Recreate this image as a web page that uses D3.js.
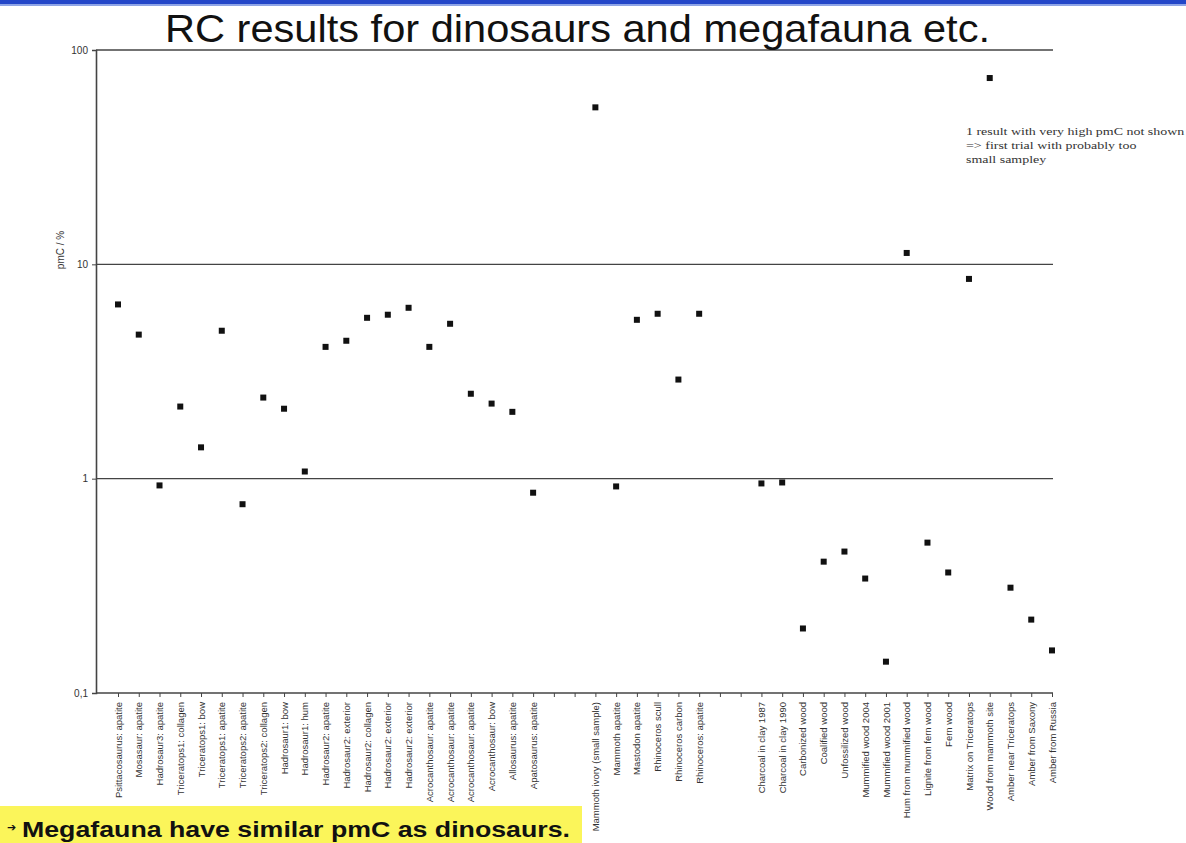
<!DOCTYPE html>
<html>
<head>
<meta charset="utf-8">
<script src="https://cdn.jsdelivr.net/npm/d3@7"></script>
<style>
  html, body { margin: 0; padding: 0; background: #fff; }
  svg { display: block; }
</style>
</head>
<body>
<svg id="chart" width="1186" height="843"></svg>
<script>
// Sample names along the x axis ("" = empty slot separating groups)
const categories = [
  "Psittacosaurus: apatite", "Mosasaur: apatite", "Hadrosaur3: apatite",
  "Triceratops1: collagen", "Triceratops1: bow", "Triceratops1: apatite",
  "Triceratops2: apatite", "Triceratops2: collagen", "Hadrosaur1: bow",
  "Hadrosaur1: hum", "Hadrosaur2: apatite", "Hadrosaur2: exterior",
  "Hadrosaur2: collagen", "Hadrosaur2: exterior", "Hadrosaur2: exterior",
  "Acrocanthosaur: apatite", "Acrocanthosaur: apatite", "Acrocanthosaur: apatite",
  "Acrocanthosaur: bow", "Allosaurus: apatite", "Apatosaurus: apatite",
  "", "",
  "Mammoth ivory (small sample)", "Mammoth apatite", "Mastodon apatite",
  "Rhinoceros scull", "Rhinoceros carbon", "Rhinoceros: apatite",
  "", "",
  "Charcoal in clay 1987", "Charcoal in clay 1990", "Carbonized wood",
  "Coalified wood", "Unfossilized wood", "Mummified wood 2004",
  "Mummified wood 2001", "Hum from mummified wood", "Lignite from fern wood",
  "Fern wood", "Matrix on Triceratops", "Wood from mammoth site",
  "Amber near Triceratops", "Amber from Saxony", "Amber from Russia"
];

// pmC values in %, one per category (null = no measurement)
const pmcValues = [
  6.5, 4.7, 0.93, 2.17, 1.40, 4.9, 0.76, 2.39, 2.12, 1.08,
  4.12, 4.40, 5.63, 5.82, 6.27, 4.12, 5.28, 2.49, 2.24, 2.05, 0.86,
  null, null,
  54.0, 0.92, 5.51, 5.88, 2.90, 5.88,
  null, null,
  0.95, 0.96, 0.20, 0.41, 0.457, 0.342, 0.140, 11.3, 0.503, 0.365,
  8.55, 74.0, 0.31, 0.22, 0.158
];

const yTickValues = [0.1, 1, 10, 100];
const yTickLabels = ["0,1", "1", "10", "100"];

const titleText = "RC results for dinosaurs and megafauna etc.";
const noteLines = [
  "1 result with very high pmC not shown",
  "=> first trial with probably too",
  "small sampley"
];
const conclusionText = "Megafauna have similar pmC as dinosaurs.";

const svg = d3.select("#chart");

// Top banner strip
svg.append("rect").attr("x", 0).attr("y", 0).attr("width", 1186).attr("height", 4)
  .attr("fill", "#2346c8");
svg.append("rect").attr("x", 0).attr("y", 4).attr("width", 1186).attr("height", 2)
  .attr("fill", "#8ea4e6");

const axisX = 96;
const x = d3.scalePoint().domain(d3.range(categories.length)).range([118, 1052]);
const y = d3.scaleLog().domain([0.1, 100]).range([693, 50]);

// Horizontal gridlines at each decade
svg.append("g").selectAll("line")
  .data(yTickValues.slice(1))
  .join("line")
  .attr("x1", axisX).attr("x2", 1053)
  .attr("y1", d => y(d)).attr("y2", d => y(d))
  .attr("stroke", "#444").attr("stroke-width", 1.4);

// Y axis
const yAxis = d3.axisLeft(y)
  .tickValues(yTickValues)
  .tickFormat((d, i) => yTickLabels[i])
  .tickSize(4)
  .tickPadding(4);
const gy = svg.append("g").attr("transform", `translate(${axisX},0)`).call(yAxis);
gy.select(".domain").attr("stroke", "#444").attr("stroke-width", 1.6);
gy.selectAll(".tick line").attr("stroke", "#444");
gy.selectAll(".tick text")
  .attr("font-family", "Liberation Sans, Arial, sans-serif")
  .attr("font-size", 10).attr("fill", "#333");

// X axis
const xAxis = d3.axisBottom(x)
  .tickFormat(i => categories[i])
  .tickSize(4)
  .tickPadding(6);
const gx = svg.append("g").attr("transform", "translate(0,693)").call(xAxis);
gx.select(".domain").attr("d", `M${axisX},0H1053`).attr("stroke", "#444").attr("stroke-width", 1.6);
gx.selectAll(".tick line").attr("stroke", "#444");
gx.selectAll(".tick text")
  .attr("font-family", "Liberation Sans, Arial, sans-serif")
  .attr("font-size", 9.5).attr("fill", "#333")
  .attr("transform", "rotate(-90)")
  .attr("text-anchor", "end")
  .attr("dy", "0.32em")
  .attr("x", -9).attr("y", 0);

// Y axis title
svg.append("text")
  .attr("transform", "translate(64,250) rotate(-90)")
  .attr("text-anchor", "middle")
  .attr("font-family", "Liberation Sans, Arial, sans-serif")
  .attr("font-size", 10).attr("fill", "#333")
  .text("pmC / %");

// Data markers
const pts = pmcValues.map((v, i) => ({ i, v })).filter(d => d.v != null);
svg.append("g").selectAll("rect")
  .data(pts)
  .join("rect")
  .attr("x", d => x(d.i) - 3).attr("y", d => y(d.v) - 3)
  .attr("width", 6).attr("height", 6)
  .attr("fill", "#111");

// Chart title
svg.append("text")
  .attr("x", 165).attr("y", 42)
  .attr("font-family", "Liberation Sans, Arial, sans-serif")
  .attr("font-size", 39).attr("fill", "#111")
  .attr("textLength", 825).attr("lengthAdjust", "spacingAndGlyphs")
  .text(titleText);

// Side note
svg.append("g")
  .attr("transform", "translate(966,0) scale(1.27,1)")
  .selectAll("text")
  .data(noteLines)
  .join("text")
  .attr("x", 0).attr("y", (d, i) => 135 + i * 14)
  .attr("font-family", "Liberation Serif, Times New Roman, serif")
  .attr("font-size", 11).attr("fill", "#333")
  .text(d => d);

// Conclusion box
svg.append("rect").attr("x", 0).attr("y", 806).attr("width", 582).attr("height", 37)
  .attr("fill", "#fbf55a");
svg.append("text")
  .attr("x", 7).attr("y", 831)
  .attr("font-family", "DejaVu Sans, sans-serif")
  .attr("font-size", 11).attr("fill", "#111")
  .text("\u2794");
svg.append("text")
  .attr("x", 22).attr("y", 837)
  .attr("font-family", "Liberation Sans, Arial, sans-serif")
  .attr("font-weight", "bold")
  .attr("font-size", 22).attr("fill", "#111")
  .attr("textLength", 548).attr("lengthAdjust", "spacingAndGlyphs")
  .text(conclusionText);
</script>
</body>
</html>
